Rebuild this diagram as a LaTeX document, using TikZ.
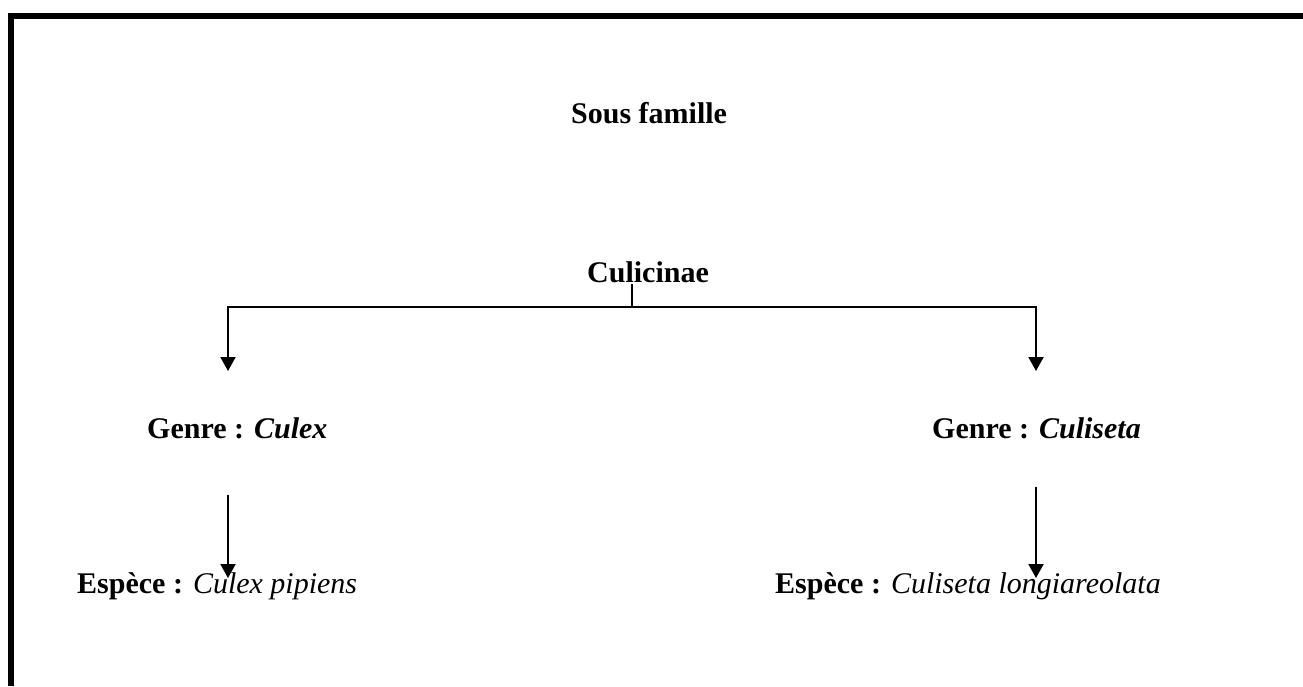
\documentclass[tikz,border=0pt]{standalone}
\usepackage{fontspec}
\setmainfont{Liberation Serif}
\usetikzlibrary{arrows.meta}
\begin{document}
\begin{tikzpicture}[x=1pt,y=-1pt,
  lbl/.style={anchor=base west,inner sep=0pt,font=\fontsize{30}{36}\selectfont},
  conn/.style={line width=2pt},
  arr/.style={conn,-{Triangle[width=15pt,length=14pt]}},
  frame/.style={line width=6pt}]
\useasboundingbox (0,0) rectangle (1303,686);
% frame
\coordinate (fb) at (11,686);
\coordinate (fc) at (11,16);
\coordinate (fr) at (1303,16);
\draw[frame] (fb) -- (11,13) (8,16) -- (fr);
% texts
\node[lbl] (sous) at (571,123) {\textbf{Sous famille}};
\node[lbl] (culicinae) at (587,282) {\textbf{Culicinae}};
\node[lbl] (genre1) at (147,438) {\textbf{Genre : \textit{Culex}}};
\node[lbl] (genre2) at (932,438) {\textbf{Genre : \textit{Culiseta}}};
\node[lbl] (esp1) at (77,593) {\textbf{Espèce :} \textit{Culex pipiens}};
\node[lbl] (esp2) at (775,593) {\textbf{Espèce :} \textit{Culiseta longiareolata}};
% connectors
\coordinate (stubtop) at (632,284);
\coordinate (stubbot) at (632,307);
\coordinate (hl) at (228,307);
\coordinate (hr) at (1036,307);
\coordinate (tl) at (228,371);
\coordinate (tr) at (1036,371);
\coordinate (s1) at (228,495);
\coordinate (e1) at (228,578);
\coordinate (s2) at (1036,487);
\coordinate (e2) at (1036,578);
\draw[conn] (stubtop) -- (stubbot);
\draw[conn] (hl) -- (hr);
\draw[arr] ([yshift=1pt]hl) -- (tl);
\draw[arr] ([yshift=1pt]hr) -- (tr);
\draw[arr] (s1) -- (e1);
\draw[arr] (s2) -- (e2);
\end{tikzpicture}
\end{document}
